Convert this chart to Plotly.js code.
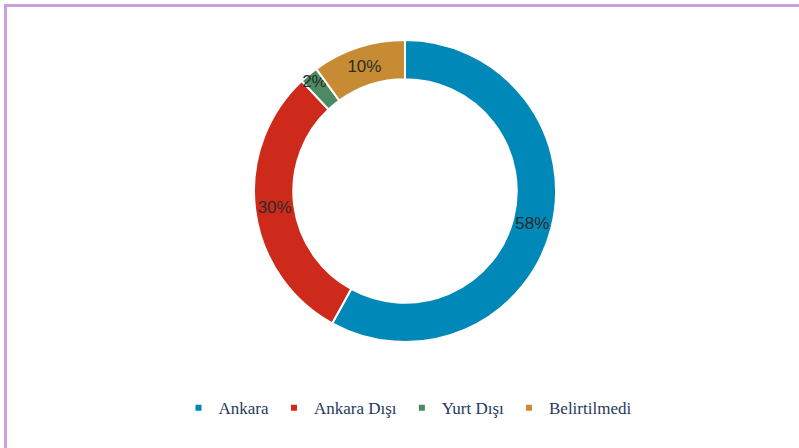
<!DOCTYPE html>
<html>
<head>
<meta charset="utf-8">
<script src="https://cdn.plot.ly/plotly-3.0.1.min.js"></script>
<style>html,body{margin:0;padding:0;background:#fff;}#chart{width:799px;height:448px;}</style>
</head>
<body>
<div id="chart"></div>
<script>
const categories = ["Ankara", "Ankara Dışı", "Yurt Dışı", "Belirtilmedi"];
const values = [58, 30, 2, 10];
const colors = ["#0088b9", "#cd2a1b", "#4b8a62", "#c68b33"];

const pie = {
  type: "pie",
  labels: categories,
  values: values,
  sort: false,
  direction: "clockwise",
  rotation: 0,
  hole: 0.74,
  marker: {colors: colors, line: {color: "#ffffff", width: 2}},
  textinfo: "percent",
  texttemplate: "%{percent:.0%}",
  textposition: "inside",
  insidetextorientation: "horizontal",
  textfont: {family: "Liberation Sans, Arial, sans-serif", size: 17, color: "#2b2b2b"},
  showlegend: false,
  domain: {x: [0.3179, 0.6959], y: [0.2366, 0.9107]},
  hoverinfo: "none"
};

const legendTraces = categories.map((c, i) => ({
  type: "scatter",
  mode: "markers",
  x: [null], y: [null],
  name: c,
  marker: {symbol: "square", size: 6, color: colors[i]},
  showlegend: true,
  hoverinfo: "none"
}));

const layout = {
  width: 799, height: 448,
  margin: {l: 0, r: 0, t: 0, b: 0},
  paper_bgcolor: "#ffffff",
  plot_bgcolor: "#ffffff",
  xaxis: {visible: false}, yaxis: {visible: false},
  uniformtext: {minsize: 17, mode: "show"},
  showlegend: true,
  legend: {
    orientation: "h", x: 0.51, xanchor: "center", y: 0.089, yanchor: "middle",
    font: {family: "Liberation Serif, serif", size: 17, color: "#1f3960"},
    itemclick: false, itemdoubleclick: false
  },
  shapes: [
    {type: "line", xref: "paper", yref: "paper", x0: 0.0069, x1: 0.0069, y0: 0, y1: 0.991, line: {color: "#c8a0e2", width: 3}},
    {type: "line", xref: "paper", yref: "paper", x0: 0.005, x1: 1, y0: 0.9877, y1: 0.9877, line: {color: "#c8a0e2", width: 3}}
  ]
};

Plotly.newPlot("chart", [pie].concat(legendTraces), layout, {displayModeBar: false, staticPlot: true});
</script>
</body>
</html>
